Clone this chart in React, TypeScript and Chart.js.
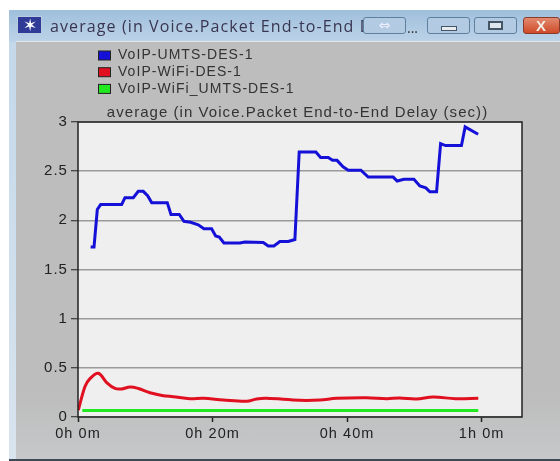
import React, { useEffect, useRef } from "react";
import { Chart, registerables } from "chart.js";

Chart.register(...registerables);

const chartTitle = "average (in Voice.Packet End-to-End Delay (sec))";
const windowTitle = "average (in Voice.Packet End-to-End D";
const umtsLabel = "VoIP-UMTS-DES-1";
const wifiLabel = "VoIP-WiFi-DES-1";
const hybridLabel = "VoIP-WiFi_UMTS-DES-1";

const umtsMinutes = [1.88, 2.38, 2.87, 3.37, 6.49, 6.98, 8.22, 8.96, 9.7, 10.35, 10.95, 13.27, 13.82, 15.05, 15.75, 16.74, 17.87, 18.72, 19.86, 20.46, 21, 21.69, 24.07, 24.8, 27.54, 28.28, 29.12, 30.01, 31.25, 32.24, 32.88, 35.36, 36.06, 37.2, 37.84, 38.5, 39.4, 40.17, 42.05, 43.14, 46.85, 47.45, 48.44, 49.93, 50.82, 51.7, 52.3, 53.3, 53.9, 54.63, 57, 57.55, 59.48];
const umtsDelay = [1.73, 1.73, 2.11, 2.16, 2.16, 2.23, 2.23, 2.295, 2.295, 2.25, 2.18, 2.18, 2.06, 2.06, 1.99, 1.98, 1.955, 1.915, 1.915, 1.84, 1.83, 1.77, 1.77, 1.78, 1.775, 1.74, 1.74, 1.785, 1.785, 1.805, 2.695, 2.695, 2.64, 2.64, 2.61, 2.61, 2.545, 2.51, 2.51, 2.44, 2.44, 2.4, 2.417, 2.417, 2.35, 2.33, 2.29, 2.29, 2.78, 2.76, 2.76, 2.95, 2.875];

const wifiMinutes = [0.05, 1.04, 1.78, 3.02, 4.26, 5.5, 6.49, 7.73, 8.96, 10.7, 12.68, 14.16, 16.64, 18.62, 21.6, 25.07, 26.55, 28, 33, 35.96, 38.4, 42.9, 45.9, 47.8, 50.3, 52.8, 56.1, 59.5];
const wifiDelay = [0.07, 0.31, 0.39, 0.445, 0.35, 0.29, 0.285, 0.305, 0.29, 0.247, 0.217, 0.207, 0.186, 0.19, 0.173, 0.16, 0.183, 0.19, 0.17, 0.173, 0.19, 0.196, 0.186, 0.193, 0.183, 0.203, 0.186, 0.19];

const hybridMinutes = [0.64, 59.5];
const hybridDelay = [0.065, 0.065];

const xTickLabels: Record<number, string> = { 0: "0h 0m", 20: "0h 20m", 40: "0h 40m", 60: "1h 0m" };

const FONT = "'Liberation Sans', Arial, sans-serif";

const toPoints = (xs: number[], ys: number[]) => xs.map((x, i) => ({ x, y: ys[i] }));

const plotBackground = {
  id: "plotBackground",
  afterLayout(chart: any) {
    if (chart.titleBlock) chart.titleBlock.left = 73;
  },
  beforeDraw(chart: any) {
    const { ctx, chartArea: a } = chart;
    ctx.save();
    ctx.fillStyle = "#efefef";
    ctx.fillRect(a.left, a.top, a.right - a.left, a.bottom - a.top);
    ctx.restore();
    ctx.letterSpacing = "1.05px";
  },
  afterDraw(chart: any) {
    const { ctx, chartArea: a } = chart;
    ctx.save();
    ctx.strokeStyle = "#222";
    ctx.lineWidth = 1.5;
    ctx.strokeRect(a.left, a.top, a.right - a.left, a.bottom - a.top);
    ctx.restore();
  },
};

const stackedLegend = {
  id: "stackedLegend",
  afterDraw(chart: any) {
    const { ctx } = chart;
    ctx.save();
    ctx.font = `14px ${FONT}`;
    ctx.textBaseline = "middle";
    chart.data.datasets.forEach((d: any, i: number) => {
      const y = 55.5 + i * 16.7;
      ctx.fillStyle = d.borderColor;
      ctx.strokeStyle = "#222";
      ctx.lineWidth = 1;
      ctx.fillRect(98.5, y - 4.5, 12, 9);
      ctx.strokeRect(98.5, y - 4.5, 12, 9);
      ctx.fillStyle = "#333";
      ctx.fillText(d.label, 118, y);
    });
    ctx.restore();
  },
};

export default function App() {
  const ref = useRef<HTMLCanvasElement>(null);

  useEffect(() => {
    document.body.style.margin = "0";
    const chart = new Chart(ref.current as HTMLCanvasElement, {
      type: "line",
      data: {
        datasets: [
          { label: umtsLabel, data: toPoints(umtsMinutes, umtsDelay), borderColor: "#1410d8", backgroundColor: "#1410d8", borderWidth: 3, pointRadius: 0, tension: 0 },
          { label: wifiLabel, data: toPoints(wifiMinutes, wifiDelay), borderColor: "#e01020", backgroundColor: "#e01020", borderWidth: 3, pointRadius: 0, tension: 0.35 },
          { label: hybridLabel, data: toPoints(hybridMinutes, hybridDelay), borderColor: "#22e822", backgroundColor: "#22e822", borderWidth: 3, pointRadius: 0, tension: 0 },
        ],
      },
      options: {
        animation: false,
        responsive: false,
        layout: { padding: { left: 0, right: 38, top: 0, bottom: 0 } },
        plugins: {
          legend: { display: false },
          tooltip: { enabled: false },
          title: {
            display: true,
            text: chartTitle,
            color: "#333",
            font: { family: FONT, size: 15, weight: "normal", lineHeight: 1.2 },
            padding: { top: 104, bottom: 0 },
          },
        },
        scales: {
          x: {
            type: "linear",
            min: 0,
            max: 66,
            afterFit: (s: any) => { s.height = 44; },
            grid: { color: "rgba(0,0,0,0)", tickColor: "#222", tickLength: 5, tickWidth: 1.5 },
            border: { display: false },
            ticks: {
              stepSize: 20,
              includeBounds: false,
              maxRotation: 0,
              color: "#222",
              padding: 3,
              font: { family: FONT, size: 14.5 },
              callback: (v: any) => xTickLabels[v as number] ?? "",
            },
          },
          y: {
            min: 0,
            max: 3,
            afterFit: (s: any) => { s.width = 78; },
            grid: { color: "#9a9a9a", lineWidth: 1.5, tickColor: "#222", tickLength: 7, tickWidth: 1 },
            border: { display: false },
            ticks: {
              stepSize: 0.5,
              color: "#222",
              padding: 3,
              font: { family: FONT, size: 15 },
              callback: (v: any) => String(v),
            },
          },
        },
      },
      plugins: [plotBackground, stackedLegend],
    } as any);
    return () => chart.destroy();
  }, []);

  const btn = (left: number, width: number, bg: string): React.CSSProperties => ({
    position: "absolute", left, top: 17, width, height: 17, background: bg,
    border: "1px solid #5f7f9f", borderRadius: 3, boxSizing: "border-box",
  });

  return (
    <div style={{ position: "fixed", left: 0, top: 0, width: 560, height: 461, background: "#fff", overflow: "hidden" }}>
      <div style={{ position: "absolute", left: 9, top: 10, width: 551, height: 32, background: "linear-gradient(#9fbfdc, #bcd3e8)" }} />
      <div style={{ position: "absolute", left: 9, top: 42, width: 7, height: 417, background: "linear-gradient(#c4d8ea, #d8e4ee)" }} />
      <div style={{ position: "absolute", left: 16, top: 41, width: 544, height: 418, background: "linear-gradient(#bdbdbd 85%, #c6c8c9)", borderTop: "1px solid #dfe6ea", boxSizing: "border-box" }} />
      <div style={{ position: "absolute", left: 9, top: 459, width: 551, height: 2, background: "#3d4a55" }} />
      <canvas ref={ref} width={560} height={461} style={{ position: "absolute", left: 0, top: 0, display: "block" }} />
      <div style={{ position: "absolute", left: 17, top: 16, width: 25, height: 18, background: "#2f3b96", color: "#fff", fontSize: 17, lineHeight: "18px", textAlign: "center", fontFamily: FONT, border: "1px solid #b8cce0", boxSizing: "border-box" }}>✶</div>
      <div style={{ position: "absolute", left: 50, top: 16, fontFamily: "'Open Sans', sans-serif", fontSize: 16, letterSpacing: 1.1, lineHeight: "20px", color: "#3a3550", whiteSpace: "nowrap" }}>{windowTitle}</div>
      <div style={{ ...btn(363, 43, "#b3cbe2"), color: "#eef", fontSize: 14, lineHeight: "14px", textAlign: "center", fontFamily: "'DejaVu Sans'" }}>⇔</div>
      <div style={{ position: "absolute", left: 407, top: 18, fontFamily: "'Open Sans', sans-serif", fontSize: 14, color: "#333" }}>...</div>
      <div style={btn(427, 43, "#b3cbe2")}><div style={{ position: "absolute", left: 13, top: 8, width: 16, height: 5, background: "#e8ecf0", border: "1px solid #456", boxSizing: "border-box" }} /></div>
      <div style={btn(474, 43, "#b3cbe2")}><div style={{ position: "absolute", left: 13, top: 3, width: 15, height: 9, background: "#dfe6ee", border: "2px solid #456", boxSizing: "border-box" }} /></div>
      <div style={{ ...btn(523, 37, "linear-gradient(#e28a70, #cf4a28)"), border: "1px solid #8a3a2a", color: "#f2ece4", fontWeight: 700, fontSize: 15, lineHeight: "15px", paddingLeft: 12, fontFamily: FONT }}>X</div>
    </div>
  );
}
